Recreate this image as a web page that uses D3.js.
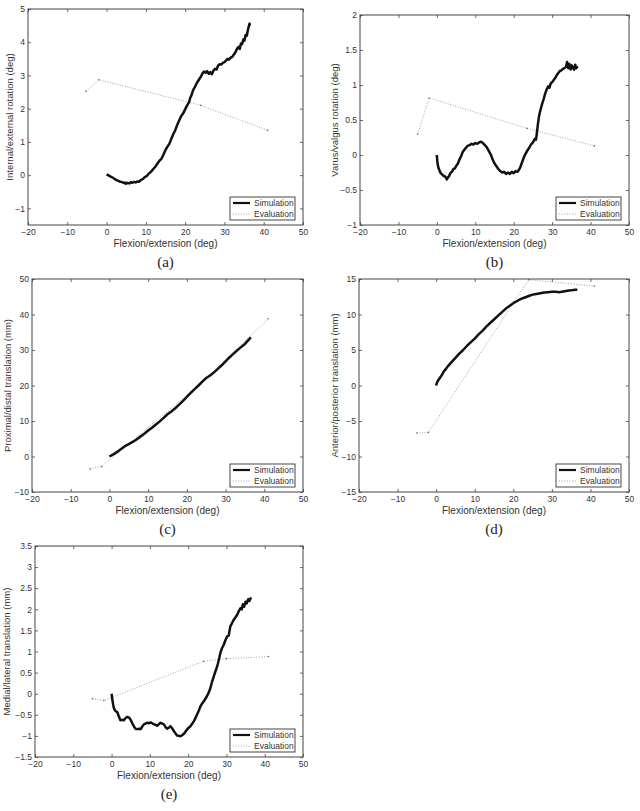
<!DOCTYPE html>
<html>
<head>
<meta charset="utf-8">
<script src="https://cdn.jsdelivr.net/npm/d3@7"></script>
<style>
  body { margin: 0; background: #fff; }
  svg { display: block; }
</style>
</head>
<body>
<div id="chart"></div>
<script>
// flexion angle ticks shared by all panels
const flexTicks = [-20, -10, 0, 10, 20, 30, 40, 50];

// (a) internal/external rotation (deg)
const simA = [[0,0.02],[0.4,0],[0.8,-0.03],[1.2,-0.05],[1.6,-0.08],[2,-0.11],[2.5,-0.15],[3,-0.17],[3.5,-0.2],[4,-0.21],[4.5,-0.24],[4.8,-0.22],[5,-0.26],[5.4,-0.23],[5.8,-0.25],[6.2,-0.21],[6.6,-0.23],[7,-0.2],[7.4,-0.22],[7.8,-0.19],[8.2,-0.2],[8.6,-0.16],[9,-0.13],[9.4,-0.1],[9.8,-0.05],[10.2,-0.03],[10.6,0.03],[11,0.07],[11.5,0.13],[12,0.2],[12.5,0.27],[13,0.36],[13.5,0.44],[14,0.5],[14.5,0.62],[15,0.76],[15.5,0.86],[16,0.95],[16.5,1.1],[17,1.24],[17.5,1.36],[18,1.52],[18.5,1.65],[19,1.78],[19.5,1.86],[20,1.98],[20.5,2.1],[21,2.2],[21.3,2.33],[21.6,2.4],[22,2.55],[22.5,2.66],[23,2.78],[23.5,2.87],[24,2.96],[24.4,3.06],[24.8,3.12],[25.2,3.08],[25.6,3.13],[26,3.05],[26.4,3.1],[26.8,3.04],[27.2,3.14],[27.6,3.2],[28,3.18],[28.4,3.3],[28.8,3.34],[29.2,3.33],[29.6,3.38],[30,3.4],[30.4,3.45],[30.8,3.5],[31.2,3.48],[31.6,3.54],[32,3.56],[32.4,3.63],[32.8,3.7],[33.2,3.8],[33.6,3.86],[33.9,3.8],[34.2,3.96],[34.5,3.94],[34.8,4.08],[35.1,4.05],[35.4,4.22],[35.7,4.2],[36,4.38],[36.2,4.48],[36.4,4.56],[36.5,4.5]];
const evalA = [[-5.2,2.52],[-2,2.87],[24,2.1],[41,1.35]];
const ticksA = [-1, 0, 1, 2, 3, 4, 5];

// (b) varus/valgus rotation (deg)
const simB = [[0,0],[0.1,-0.08],[0.2,-0.13],[0.4,-0.18],[0.7,-0.22],[1,-0.26],[1.4,-0.28],[1.8,-0.3],[2.2,-0.31],[2.6,-0.35],[2.9,-0.32],[3.2,-0.3],[3.5,-0.26],[3.9,-0.24],[4.3,-0.2],[4.7,-0.19],[5.1,-0.15],[5.5,-0.12],[5.9,-0.06],[6.3,-0.02],[6.7,0.04],[7.1,0.07],[7.5,0.1],[8,0.13],[8.5,0.14],[9,0.16],[9.5,0.15],[10,0.17],[10.5,0.16],[11,0.18],[11.5,0.19],[12,0.17],[12.5,0.14],[13,0.11],[13.5,0.06],[14,0.01],[14.5,-0.06],[15,-0.12],[15.5,-0.16],[16,-0.2],[16.5,-0.23],[17,-0.25],[17.5,-0.24],[18,-0.27],[18.5,-0.25],[19,-0.27],[19.5,-0.24],[20,-0.26],[20.5,-0.23],[21,-0.24],[21.5,-0.2],[21.8,-0.16],[22.2,-0.1],[22.6,-0.04],[23,0.01],[23.5,0.06],[24,0.1],[24.5,0.15],[25,0.18],[25.5,0.23],[25.8,0.22],[26,0.3],[26.3,0.44],[26.6,0.56],[27,0.65],[27.4,0.73],[27.8,0.8],[28.2,0.88],[28.6,0.94],[29,0.98],[29.3,0.96],[29.6,1.02],[30,1.04],[30.4,1.07],[30.8,1.1],[31.2,1.14],[31.6,1.17],[32,1.2],[32.4,1.21],[32.8,1.23],[33.2,1.24],[33.6,1.26],[33.9,1.33],[34.2,1.24],[34.5,1.3],[34.8,1.22],[35.1,1.28],[35.4,1.25],[35.7,1.22],[36,1.29],[36.3,1.24],[36.6,1.27]];
const evalB = [[-5,0.3],[-2,0.815],[23.5,0.38],[41,0.13]];
const ticksB = [-1, -0.5, 0, 0.5, 1, 1.5, 2];

// (c) proximal/distal translation (mm)
const simC = [[0,0],[1,0.6],[2,1.3],[3,2.1],[4,2.9],[5,3.5],[6,4.1],[7,4.8],[8,5.6],[9,6.4],[10,7.3],[11,8.1],[12,9.0],[13,9.9],[14,10.9],[15,11.9],[16,12.7],[17,13.6],[18,14.6],[19,15.7],[20,16.8],[21,17.9],[22,19.0],[23,20.0],[24,21.1],[25,22.1],[26,22.8],[27,23.7],[28,24.7],[29,25.7],[30,26.8],[31,27.9],[32,28.9],[33,29.9],[34,30.8],[35,31.7],[36,32.9],[36.5,33.6]];
const evalC = [[-5,-3.5],[-2,-2.8],[24,21.0],[41,38.8]];
const ticksC = [-10, 0, 10, 20, 30, 40, 50];

// (d) anterior/posterior translation (mm)
const simD = [[0,0],[0.2,0.4],[0.5,0.7],[1,1.1],[1.5,1.5],[2,2],[2.5,2.3],[3,2.7],[4,3.3],[5,3.9],[6,4.5],[7,5.0],[8,5.6],[9,6.1],[10,6.6],[11,7.2],[12,7.7],[13,8.3],[14,8.8],[15,9.3],[16,9.8],[17,10.3],[18,10.8],[19,11.2],[20,11.6],[21,11.9],[22,12.2],[23,12.4],[24,12.6],[25,12.8],[26,12.9],[27,13.0],[28,13.1],[29,13.15],[30,13.2],[31,13.2],[32,13.15],[33,13.25],[34,13.35],[35,13.4],[36,13.5],[36.6,13.5]];
const evalD = [[-5,-6.7],[-2,-6.6],[24,14.9],[41,14.0]];
const ticksD = [-15, -10, -5, 0, 5, 10, 15];

// (e) medial/lateral translation (mm)
const simE = [[0,0],[0.1,-0.06],[0.2,-0.14],[0.4,-0.25],[0.6,-0.34],[0.9,-0.4],[1.2,-0.42],[1.5,-0.44],[1.9,-0.54],[2.3,-0.63],[2.8,-0.62],[3.2,-0.63],[3.6,-0.58],[4.1,-0.55],[4.6,-0.57],[5,-0.62],[5.4,-0.7],[5.8,-0.77],[6.2,-0.83],[6.7,-0.84],[7.2,-0.83],[7.6,-0.84],[8,-0.78],[8.4,-0.73],[8.8,-0.71],[9.3,-0.69],[9.8,-0.7],[10.2,-0.68],[10.6,-0.7],[11,-0.72],[11.5,-0.74],[11.9,-0.76],[12.4,-0.72],[12.8,-0.69],[13.3,-0.71],[13.7,-0.73],[14.1,-0.79],[14.5,-0.83],[15,-0.8],[15.4,-0.77],[15.9,-0.83],[16.3,-0.89],[16.7,-0.94],[17.1,-0.99],[17.6,-1.0],[18,-1.01],[18.5,-0.98],[18.9,-0.95],[19.3,-0.9],[19.7,-0.85],[20.2,-0.8],[20.6,-0.77],[21,-0.72],[21.5,-0.65],[21.9,-0.58],[22.3,-0.5],[22.8,-0.4],[23.2,-0.3],[23.6,-0.24],[24.1,-0.18],[24.5,-0.12],[24.9,-0.06],[25.4,0.03],[25.8,0.13],[26.2,0.27],[26.7,0.41],[27.1,0.52],[27.6,0.65],[28,0.8],[28.4,0.96],[28.8,1.07],[29.3,1.16],[29.7,1.26],[30.2,1.36],[30.6,1.38],[31,1.59],[31.5,1.68],[31.9,1.75],[32.3,1.8],[32.8,1.87],[33.2,1.95],[33.7,2.03],[34,2.0],[34.3,2.12],[34.6,2.06],[35,2.18],[35.3,2.14],[35.7,2.24],[36,2.2],[36.3,2.26],[36.5,2.24]];
const evalE = [[-5,-0.12],[-2,-0.16],[24,0.77],[30,0.83],[41,0.88]];
const ticksE = [-1.5, -1, -0.5, 0, 0.5, 1, 1.5, 2, 2.5, 3, 3.5];

const legendLabels = ["Simulation", "Evaluation"];

const width = 640, height = 811;
const svg = d3.select("#chart").append("svg")
    .attr("width", width)
    .attr("height", height)
    .attr("viewBox", [0, 0, width, height]);

const font = "'Liberation Sans', Arial, sans-serif";
const fmt = v => String(v).replace("-", "\u2212");

// one box per panel: plot area edges + where the y title sits
const panels = [
  {sim: simA, ev: evalA, yDom: [-1.5, 5], yTicks: ticksA, ylab: "Internal/external rotation (deg)", cap: "(a)", x0: 28, x1: 303, y0: 9, y1: 225, ylx: 10},
  {sim: simB, ev: evalB, yDom: [-1, 2], yTicks: ticksB, ylab: "Varus/valgus rotation (deg)", cap: "(b)", x0: 360, x1: 629, y0: 15, y1: 225, ylx: 335},
  {sim: simC, ev: evalC, yDom: [-10, 50], yTicks: ticksC, ylab: "Proximal/distal translation (mm)", cap: "(c)", x0: 32, x1: 303, y0: 279, y1: 492, ylx: 8},
  {sim: simD, ev: evalD, yDom: [-15, 15], yTicks: ticksD, ylab: "Anterior/posterior translation (mm)", cap: "(d)", x0: 359, x1: 629, y0: 279, y1: 492, ylx: 335},
  {sim: simE, ev: evalE, yDom: [-1.5, 3.5], yTicks: ticksE, ylab: "Medial/lateral translation (mm)", cap: "(e)", x0: 35, x1: 303, y0: 546, y1: 757, ylx: 7}
];

panels.forEach(p => {
  const x = d3.scaleLinear([-20, 50], [p.x0, p.x1]);
  const y = d3.scaleLinear(p.yDom, [p.y1, p.y0]);
  const g = svg.append("g");
  const tk = 3;

  // data lines first, frame on top
  const line = d3.line().x(d => x(d[0])).y(d => y(d[1]));
  g.append("path")
      .attr("d", line(p.ev))
      .attr("fill", "none")
      .attr("stroke", "#999")
      .attr("stroke-width", 0.9)
      .attr("stroke-dasharray", "1,1.6");
  g.selectAll("circle.mk")
    .data(p.ev)
    .join("circle")
      .attr("class", "mk")
      .attr("cx", d => x(d[0]))
      .attr("cy", d => y(d[1]))
      .attr("r", 0.8)
      .attr("fill", "#666");
  g.append("path")
      .attr("d", line(p.sim))
      .attr("fill", "none")
      .attr("stroke", "#111")
      .attr("stroke-width", 2.5)
      .attr("stroke-linejoin", "round");

  // ticks on all four sides, pointing inward
  const axisCol = "#444";
  g.append("g")
      .attr("transform", `translate(0,${p.y1})`)
      .call(d3.axisBottom(x).tickValues(flexTicks).tickSize(-tk).tickPadding(4).tickFormat(fmt))
      .call(a => a.select(".domain").remove());
  g.append("g")
      .attr("transform", `translate(0,${p.y0})`)
      .call(d3.axisTop(x).tickValues(flexTicks).tickSize(-tk).tickFormat(""))
      .call(a => a.select(".domain").remove());
  g.append("g")
      .attr("transform", `translate(${p.x0},0)`)
      .call(d3.axisLeft(y).tickValues(p.yTicks).tickSize(-tk).tickPadding(3).tickFormat(fmt))
      .call(a => a.select(".domain").remove());
  g.append("g")
      .attr("transform", `translate(${p.x1},0)`)
      .call(d3.axisRight(y).tickValues(p.yTicks).tickSize(-tk).tickFormat(""))
      .call(a => a.select(".domain").remove());
  g.selectAll(".tick line").attr("stroke", axisCol).attr("stroke-width", 0.8);
  g.selectAll(".tick text").attr("fill", "#333").style("font", `8.5px ${font}`);

  g.append("rect")
      .attr("x", p.x0).attr("y", p.y0)
      .attr("width", p.x1 - p.x0).attr("height", p.y1 - p.y0)
      .attr("fill", "none")
      .attr("stroke", axisCol)
      .attr("stroke-width", 1);

  // axis titles and caption
  g.append("text")
      .attr("x", (p.x0 + p.x1) / 2)
      .attr("y", p.y1 + 22)
      .attr("text-anchor", "middle")
      .attr("fill", "#333")
      .style("font", `10px ${font}`)
      .text("Flexion/extension (deg)");
  g.append("text")
      .attr("transform", `translate(${p.ylx},${(p.y0 + p.y1) / 2}) rotate(-90)`)
      .attr("dy", "0.35em")
      .attr("text-anchor", "middle")
      .attr("fill", "#333")
      .style("font", `9.5px ${font}`)
      .text(p.ylab);
  g.append("text")
      .attr("x", (p.x0 + p.x1) / 2)
      .attr("y", p.y1 + 42)
      .attr("text-anchor", "middle")
      .attr("fill", "#222")
      .style("font", "15px 'Liberation Serif', 'DejaVu Serif', serif")
      .text(p.cap);

  // legend, bottom right
  const lw = 65, lh = 23;
  const lx = p.x1 - 8 - lw, ly = p.y1 - 5 - lh;
  const lg = g.append("g").attr("transform", `translate(${lx},${ly})`);
  lg.append("rect")
      .attr("width", lw).attr("height", lh)
      .attr("fill", "#fff")
      .attr("stroke", "#333")
      .attr("stroke-width", 0.9);
  legendLabels.forEach((lab, i) => {
    const yy = 6 + i * 11;
    const s = lg.append("line")
        .attr("x1", 3).attr("x2", 20)
        .attr("y1", yy).attr("y2", yy);
    if (i === 0) s.attr("stroke", "#111").attr("stroke-width", 2.2);
    else s.attr("stroke", "#999").attr("stroke-width", 0.9).attr("stroke-dasharray", "1,1.6");
    lg.append("text")
        .attr("x", 24).attr("y", yy)
        .attr("dy", "0.35em")
        .attr("fill", "#333")
        .style("font", `8.5px ${font}`)
        .text(lab);
  });
});
</script>
</body>
</html>
